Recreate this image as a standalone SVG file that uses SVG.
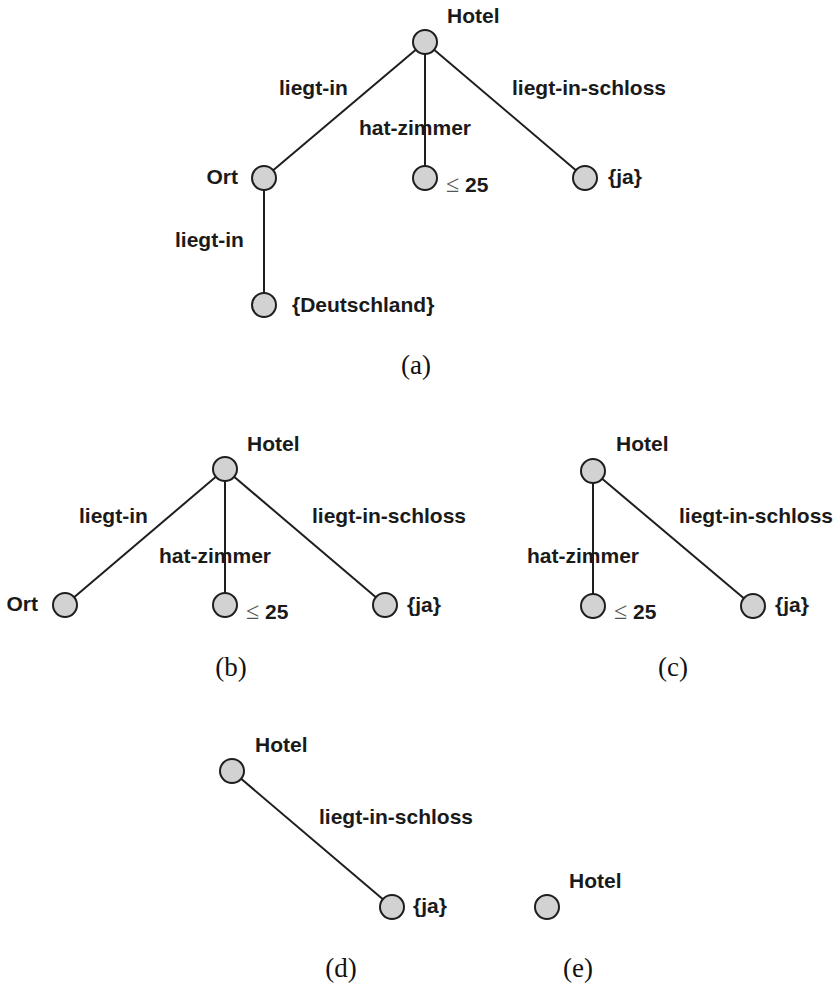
<svg xmlns="http://www.w3.org/2000/svg" width="839" height="983" viewBox="0 0 839 983">
  <style>
    .edge { stroke: #1e1e1e; stroke-width: 2; fill: none; }
    .node { fill: #d2d2d2; stroke: #1e1e1e; stroke-width: 2; }
    .lbl { font-family: "Liberation Sans", Arial, sans-serif; font-weight: bold; font-size: 21px; fill: #1a1a1a; }
    .rel { font-family: "Liberation Serif", serif; font-weight: normal; font-size: 24px; fill: #555; }
    .cap { font-family: "Liberation Serif", "DejaVu Serif", serif; font-size: 27px; fill: #111; text-anchor: middle; }
  </style>
  <rect width="839" height="983" fill="#ffffff"/>

  <!-- connectors -->
  <g id="edges">
    <!-- (a) -->
    <line class="edge" x1="425" y1="42" x2="264" y2="178"/>
    <line class="edge" x1="425" y1="42" x2="425" y2="178"/>
    <line class="edge" x1="425" y1="42" x2="585" y2="178"/>
    <line class="edge" x1="264" y1="178" x2="264" y2="305"/>
    <!-- (b) -->
    <line class="edge" x1="225" y1="469" x2="65" y2="605"/>
    <line class="edge" x1="225" y1="469" x2="225" y2="605"/>
    <line class="edge" x1="225" y1="469" x2="385" y2="605"/>
    <!-- (c) -->
    <line class="edge" x1="593" y1="471" x2="593" y2="606"/>
    <line class="edge" x1="593" y1="471" x2="753" y2="606"/>
    <!-- (d) -->
    <line class="edge" x1="232" y1="771" x2="392" y2="907"/>
  </g>

  <!-- edge labels -->
  <g id="edge-labels" class="lbl">
    <text x="279" y="95">liegt-in</text>
    <text x="359" y="135">hat-zimmer</text>
    <text x="512" y="95">liegt-in-schloss</text>
    <text x="175" y="247">liegt-in</text>

    <text x="79" y="523">liegt-in</text>
    <text x="159" y="563">hat-zimmer</text>
    <text x="312" y="523">liegt-in-schloss</text>

    <text x="527" y="563">hat-zimmer</text>
    <text x="679" y="523">liegt-in-schloss</text>

    <text x="319" y="824">liegt-in-schloss</text>
  </g>

  <!-- tree (a) -->
  <g id="a-hotel"><circle class="node" cx="425" cy="42" r="12"/><text class="lbl" x="447" y="23">Hotel</text></g>
  <g id="a-ort"><circle class="node" cx="264" cy="178" r="12"/><text class="lbl" x="238" y="184" text-anchor="end">Ort</text></g>
  <g id="a-zimmer"><circle class="node" cx="425" cy="178" r="12"/><text class="lbl" x="446" y="192"><tspan class="rel">≤</tspan><tspan x="465">25</tspan></text></g>
  <g id="a-ja"><circle class="node" cx="585" cy="178" r="12"/><text class="lbl" x="608" y="184">{ja}</text></g>
  <g id="a-deutschland"><circle class="node" cx="264" cy="305" r="12"/><text class="lbl" x="292" y="312">{Deutschland}</text></g>
  <text class="cap" x="416" y="374">(a)</text>

  <!-- tree (b) -->
  <g id="b-hotel"><circle class="node" cx="225" cy="469" r="12"/><text class="lbl" x="247" y="451">Hotel</text></g>
  <g id="b-ort"><circle class="node" cx="65" cy="605" r="12"/><text class="lbl" x="38" y="611" text-anchor="end">Ort</text></g>
  <g id="b-zimmer"><circle class="node" cx="225" cy="605" r="12"/><text class="lbl" x="246" y="619"><tspan class="rel">≤</tspan><tspan x="265">25</tspan></text></g>
  <g id="b-ja"><circle class="node" cx="385" cy="605" r="12"/><text class="lbl" x="407" y="612">{ja}</text></g>
  <text class="cap" x="231" y="676">(b)</text>

  <!-- tree (c) -->
  <g id="c-hotel"><circle class="node" cx="593" cy="471" r="12"/><text class="lbl" x="616" y="451">Hotel</text></g>
  <g id="c-zimmer"><circle class="node" cx="593" cy="606" r="12"/><text class="lbl" x="614" y="619"><tspan class="rel">≤</tspan><tspan x="633">25</tspan></text></g>
  <g id="c-ja"><circle class="node" cx="753" cy="606" r="12"/><text class="lbl" x="775" y="612">{ja}</text></g>
  <text class="cap" x="673" y="676">(c)</text>

  <!-- tree (d) -->
  <g id="d-hotel"><circle class="node" cx="232" cy="771" r="12"/><text class="lbl" x="255" y="752">Hotel</text></g>
  <g id="d-ja"><circle class="node" cx="392" cy="907" r="12"/><text class="lbl" x="413" y="913">{ja}</text></g>
  <text class="cap" x="341" y="977">(d)</text>

  <!-- tree (e) -->
  <g id="e-hotel"><circle class="node" cx="547" cy="907" r="12"/><text class="lbl" x="569" y="888">Hotel</text></g>
  <text class="cap" x="578" y="977">(e)</text>
</svg>
